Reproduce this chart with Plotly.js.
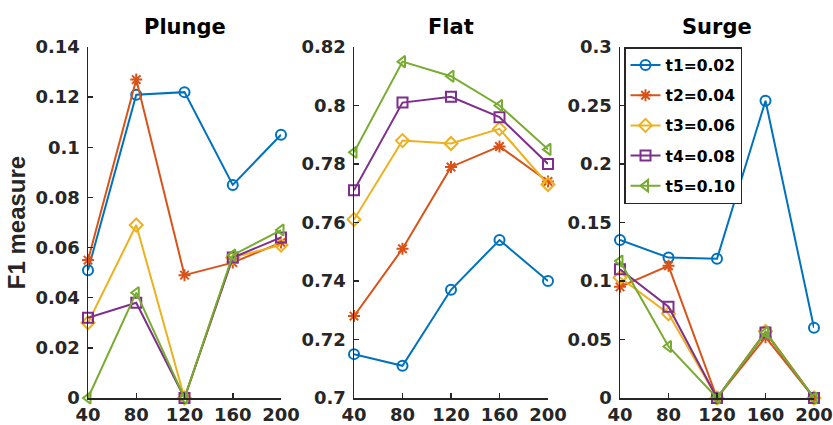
<!DOCTYPE html>
<html>
<head>
<meta charset="utf-8">
<script src="https://cdn.plot.ly/plotly-3.0.1.min.js"></script>
<style>html,body{margin:0;padding:0;background:#fff;}#chart{width:833px;height:425px;}</style>
</head>
<body>
<div id="chart"></div>
<script>
// ---- data ----
const xVals = [40, 80, 120, 160, 200];
const seriesNames = ["t1=0.02", "t2=0.04", "t3=0.06", "t4=0.08", "t5=0.10"];
const panelTitles = ["Plunge", "Flat", "Surge"];

const plungeT1 = [0.051, 0.121, 0.122, 0.085, 0.105];
const plungeT2 = [0.055, 0.127, 0.049, 0.054, 0.062];
const plungeT3 = [0.030, 0.069, 0.000, 0.056, 0.061];
const plungeT4 = [0.032, 0.038, 0.000, 0.056, 0.064];
const plungeT5 = [0.000, 0.042, 0.000, 0.057, 0.067];

const flatT1 = [0.715, 0.711, 0.737, 0.754, 0.740];
const flatT2 = [0.728, 0.751, 0.779, 0.786, 0.774];
const flatT3 = [0.761, 0.788, 0.787, 0.792, 0.773];
const flatT4 = [0.771, 0.801, 0.803, 0.796, 0.780];
const flatT5 = [0.784, 0.815, 0.810, 0.800, 0.785];

const surgeT1 = [0.135, 0.120, 0.119, 0.254, 0.060];
const surgeT2 = [0.095, 0.113, 0.000, 0.052, 0.000];
const surgeT3 = [0.103, 0.072, 0.000, 0.057, 0.000];
const surgeT4 = [0.110, 0.078, 0.000, 0.056, 0.000];
const surgeT5 = [0.117, 0.044, 0.000, 0.056, 0.000];

const plungeTicks = [0, 0.02, 0.04, 0.06, 0.08, 0.1, 0.12, 0.14];
const plungeTickText = ["0", "0.02", "0.04", "0.06", "0.08", "0.1", "0.12", "0.14"];
const flatTicks = [0.7, 0.72, 0.74, 0.76, 0.78, 0.8, 0.82];
const flatTickText = ["0.7", "0.72", "0.74", "0.76", "0.78", "0.8", "0.82"];
const surgeTicks = [0, 0.05, 0.1, 0.15, 0.2, 0.25, 0.3];
const surgeTickText = ["0", "0.05", "0.1", "0.15", "0.2", "0.25", "0.3"];

// ---- styles ----
const colors = ["#0072BD", "#D95319", "#EDB120", "#7E2F8E", "#77AC30"];
const symbols = ["circle-open", "asterisk-open", "diamond-open", "square-open", "triangle-left-open"];
const FONT = "DejaVu Sans, sans-serif";
const FONT2 = "Liberation Sans, Arial, sans-serif";

const panels = [
  {series: [plungeT1, plungeT2, plungeT3, plungeT4, plungeT5], ticks: plungeTicks, text: plungeTickText, range: [0, 0.14]},
  {series: [flatT1, flatT2, flatT3, flatT4, flatT5], ticks: flatTicks, text: flatTickText, range: [0.7, 0.82]},
  {series: [surgeT1, surgeT2, surgeT3, surgeT4, surgeT5], ticks: surgeTicks, text: surgeTickText, range: [0, 0.3]}
];

const W = 833, H = 425;
const xPix = [[88, 281], [354, 548], [620, 814]];
const yDom = [1 - 398 / H, 1 - 47 / H];

const traces = [];
const layout = {
  width: W, height: H,
  margin: {l: 0, r: 0, t: 0, b: 0},
  paper_bgcolor: "#fff", plot_bgcolor: "#fff",
  font: {family: FONT, size: 18, color: "#262626", weight: "bold"},
  showlegend: true,
  legend: {
    x: 624 / W, y: 1 - 47 / H, xanchor: "left", yanchor: "top",
    bgcolor: "#fff", bordercolor: "#262626", borderwidth: 1.5,
    font: {family: FONT, size: 15.5, color: "#000", weight: "bold"},
    traceorder: "grouped", tracegroupgap: 7, itemwidth: 30
  },
  annotations: []
};

panels.forEach((p, pi) => {
  const xa = pi === 0 ? "x" : "x" + (pi + 1);
  const ya = pi === 0 ? "y" : "y" + (pi + 1);
  p.series.forEach((ys, si) => {
    traces.push({
      x: xVals, y: ys, xaxis: xa, yaxis: ya,
      type: "scatter", mode: "lines+markers",
      name: seriesNames[si], legendgroup: "g" + si,
      showlegend: pi === 2,
      cliponaxis: false,
      line: {color: colors[si], width: 2},
      marker: {symbol: symbols[si], size: 10, color: colors[si], line: {color: colors[si], width: 2}}
    });
  });
  const axCommon = {
    showline: true, linecolor: "#262626", linewidth: 1.5,
    ticks: "inside", ticklen: 5, tickwidth: 1.5, tickcolor: "#262626",
    showgrid: false, zeroline: false, fixedrange: true,
    tickfont: {family: FONT, size: 18, color: "#262626", weight: "bold"}
  };
  layout["xaxis" + (pi === 0 ? "" : pi + 1)] = Object.assign({}, axCommon, {
    domain: [xPix[pi][0] / W, xPix[pi][1] / W], anchor: ya,
    range: [40, 200], tickmode: "array", tickvals: xVals, ticktext: xVals.map(String),
    ticklabelstandoff: 0
  });
  const yax = Object.assign({}, axCommon, {
    domain: yDom, anchor: xa, range: p.range,
    tickmode: "array", tickvals: p.ticks, ticktext: p.text,
    ticklabelstandoff: 3
  });
  if (pi === 0) {
    yax.title = {text: "F1 measure", font: {family: FONT2, size: 24, color: "#262626", weight: "bold"}, standoff: 3};
  }
  layout["yaxis" + (pi === 0 ? "" : pi + 1)] = yax;
  layout.annotations.push({
    text: panelTitles[pi], showarrow: false,
    xref: "paper", yref: "paper",
    x: (xPix[pi][0] + xPix[pi][1]) / 2 / W, y: 1 - 27 / H,
    xanchor: "center", yanchor: "middle",
    font: {family: FONT, size: 21, color: "#000", weight: "bold"}
  });
});

Plotly.newPlot("chart", traces, layout, {displayModeBar: false, staticPlot: true});
</script>
</body>
</html>
